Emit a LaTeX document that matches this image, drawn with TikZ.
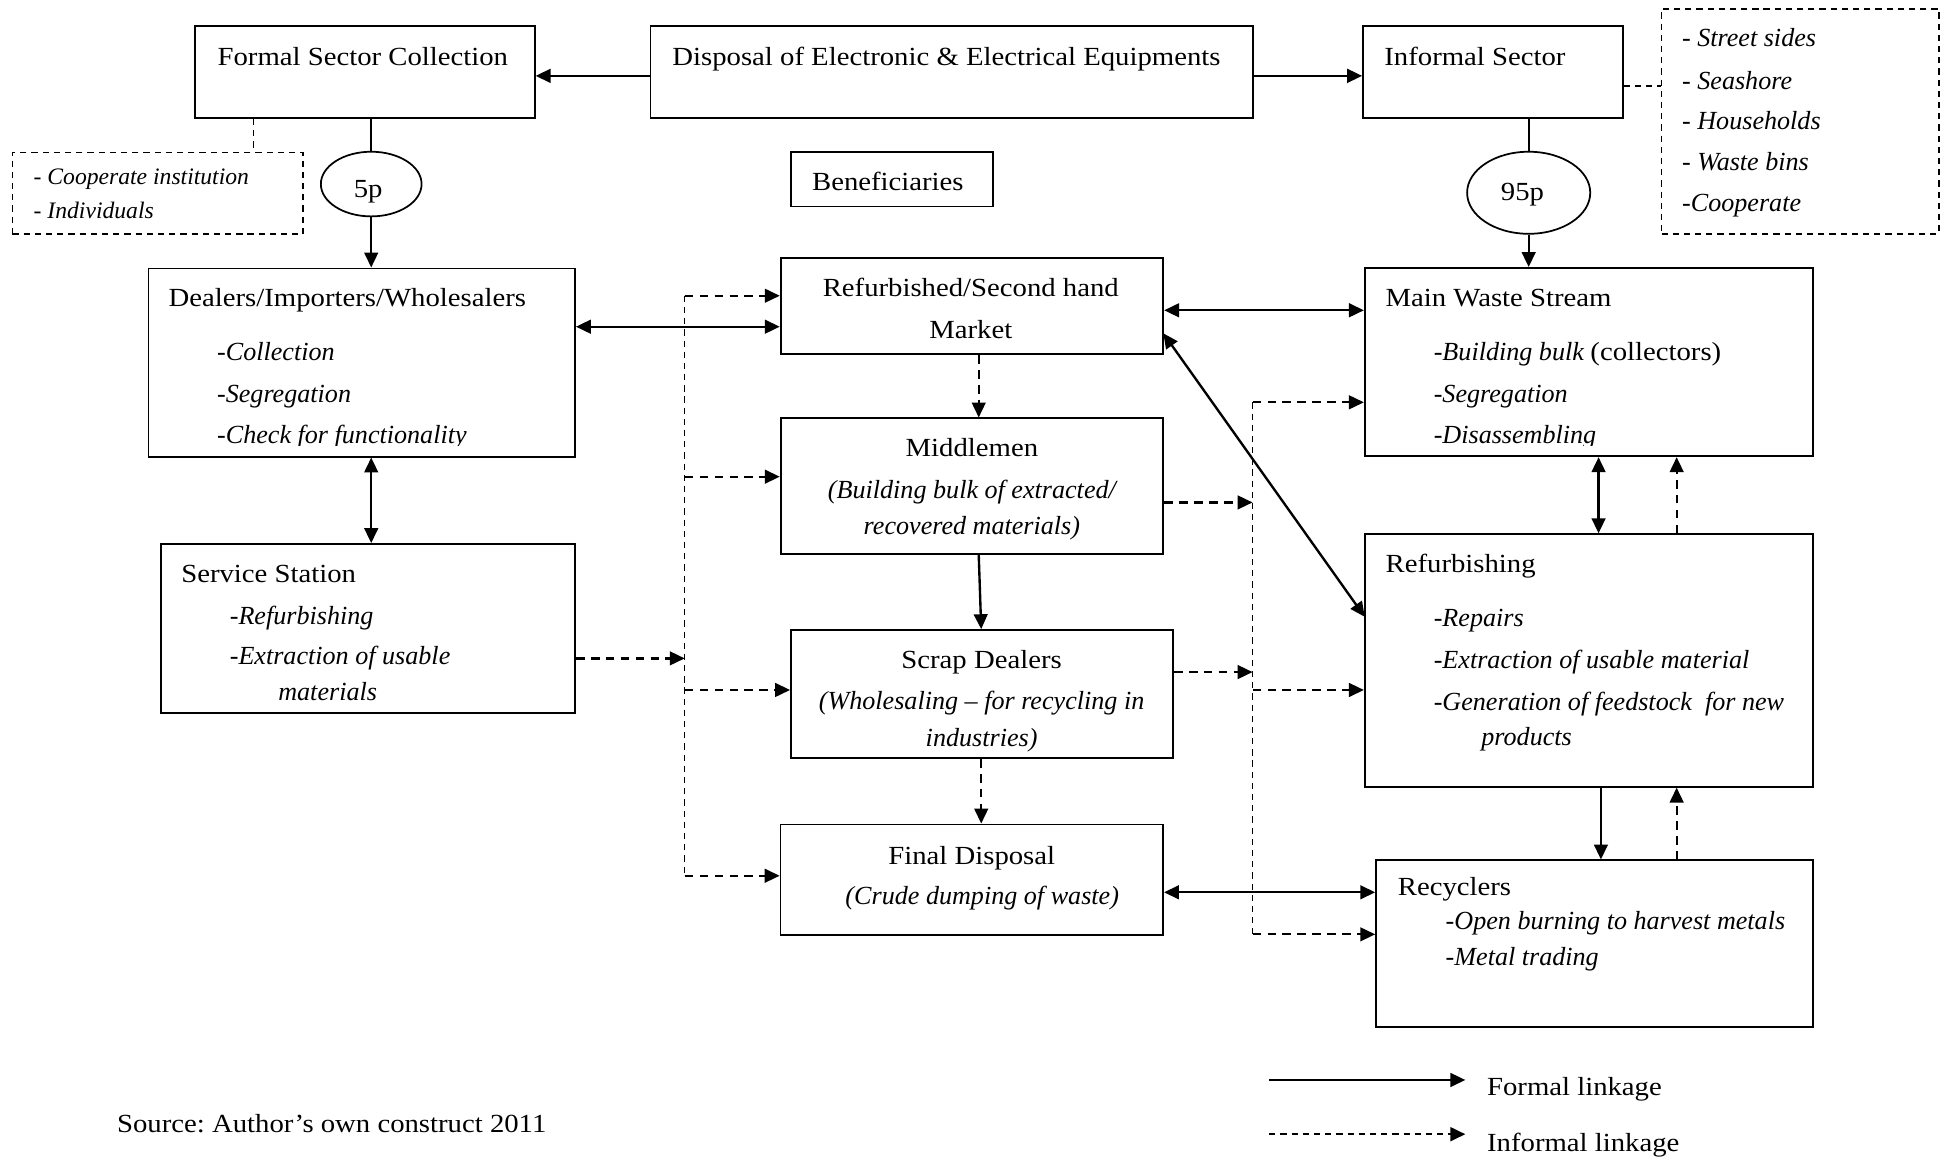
\documentclass[tikz,border=0pt]{standalone}
\usepackage{fontspec}
\setmainfont{Liberation Serif}[UprightFeatures={FakeStretch=1.1}]
\usetikzlibrary{arrows.meta,shapes.geometric}
\frenchspacing
\begin{document}
\begin{tikzpicture}[x=1pt,y=-1pt,
  >={Triangle[length=12pt,width=11pt]},
  box/.style={draw,line width=1.4pt,rectangle,inner sep=0pt},
  dbox/.style={draw,line width=1.3pt,dash pattern=on 5pt off 4pt,rectangle,inner sep=0pt},
  ell/.style={draw,ellipse,line width=1.4pt,inner sep=0pt},
  txt/.style={anchor=base west,inner sep=0pt,font=\fontsize{21}{25}\selectfont},
  itxt/.style={anchor=base west,inner sep=0pt,font=\fontsize{21}{25}\selectfont\itshape},
  sitxt/.style={anchor=base west,inner sep=0pt,font=\fontsize{19}{23}\selectfont\itshape},
  ctxt/.style={anchor=base,inner sep=0pt,font=\fontsize{21}{25}\selectfont},
  cittxt/.style={anchor=base,inner sep=0pt,font=\fontsize{21}{25}\selectfont\itshape},
  plain/.style={line width=1.4pt},
  sarr/.style={line width=1.9pt,->},
  sbi/.style={line width=1.9pt,<->},
  darr/.style={line width=1.8pt,dash pattern=on 7pt off 5pt,->},
  dline/.style={line width=1.2pt,dash pattern=on 5pt off 4pt},
  legd/.style={line width=2pt,dash pattern=on 5pt off 4pt,->}
]
\useasboundingbox (0,0) rectangle (1568,932);

% ---------- boxes ----------
\node[box,minimum width=273pt,minimum height=74pt] (formal) at (293.5,58) {};
\node[box,minimum width=484.5pt,minimum height=74pt] (disposal) at (765.25,58) {};
\node[box,minimum width=209pt,minimum height=74pt] (informal) at (1200.5,58) {};
\node[dbox,minimum width=223pt,minimum height=181pt] (rightdash) at (1447.5,97.5) {};
\node[dbox,minimum width=233.7pt,minimum height=65.9pt] (leftdash) at (126.85,155.45) {};
\node[box,minimum width=162.5pt,minimum height=44pt] (benef) at (717.25,144) {};
\node[ell,minimum width=81pt,minimum height=52pt] (ell5) at (298.5,148) {};
\node[ell,minimum width=99pt,minimum height=66pt] (ell95) at (1229.2,155) {};
\node[box,minimum width=343pt,minimum height=151.4pt] (dealers) at (290.9,291.5) {};
\node[box,minimum width=333.2pt,minimum height=135.7pt] (service) at (295.8,505.25) {};
\node[box,minimum width=307.7pt,minimum height=77.2pt] (refm) at (781.55,246.3) {};
\node[box,minimum width=307.7pt,minimum height=109.1pt] (middle) at (781.55,390.95) {};
\node[box,minimum width=307.2pt,minimum height=102.9pt] (scrap) at (789.6,558.05) {};
\node[box,minimum width=307.7pt,minimum height=88.7pt] (final) at (781.45,707.25) {};
\node[box,minimum width=360.6pt,minimum height=151.5pt] (mainw) at (1277.7,291.15) {};
\node[box,minimum width=360.6pt,minimum height=203.1pt] (refurb) at (1277.7,531.05) {};
\node[box,minimum width=351.3pt,minimum height=133.8pt] (recyc) at (1282.15,758.7) {};

% ---------- texts ----------
\node[txt] (t1) at (174.8,52.3) {Formal Sector Collection};
\node[txt] (t2) at (540.5,52.3) {Disposal of Electronic \& Electrical Equipments};
\node[txt] (t3) at (1113,52.3) {Informal Sector};
\node[txt] (t4) at (652.8,153.3) {Beneficiaries};
\node[itxt] (t5) at (1352.4,37.5) {- Street sides};
\node[itxt] (t6) at (1352.4,71.8) {- Seashore};
\node[itxt] (t7) at (1352.4,104) {- Households};
\node[itxt] (t8) at (1352.4,137.2) {- Waste bins};
\node[itxt] (t9) at (1352.4,170.2) {-Cooperate};
\node[sitxt] (t10) at (26.9,148.2) {- Cooperate institution};
\node[sitxt] (t11) at (26.9,175.6) {- Individuals};
\node[ctxt] (t12) at (296,159) {5p};
\node[ctxt] (t13) at (1224.2,161.5) {95p};

\node[txt] (t14) at (135.4,246.6) {Dealers/Importers/Wholesalers};
\node[itxt] (t15) at (174.4,289.5) {-Collection};
\node[itxt] (t16) at (174.4,323.8) {-Segregation};
\node[txt] (t18) at (145.6,468.5) {Service Station};
\node[itxt] (t19) at (184.6,501.8) {-Refurbishing};
\node[itxt] (t20) at (184.6,534.7) {-Extraction of usable};
\node[itxt] (t21) at (223.6,563.4) {materials};

\node[ctxt] (t22) at (780.6,238.6) {Refurbished/Second hand};
\node[ctxt] (t23) at (780.6,272) {Market};
\node[ctxt] (t24) at (781.5,367.2) {Middlemen};
\node[cittxt] (t25) at (781.5,400.7) {(Building bulk of extracted/};
\node[cittxt] (t26) at (781.5,429.4) {recovered materials)};
\node[ctxt] (t27) at (789.3,537.4) {Scrap Dealers};
\node[cittxt] (t28) at (789.3,570.9) {(Wholesaling -- for recycling in};
\node[cittxt] (t29) at (789.3,600) {industries)};
\node[ctxt] (t30) at (781.4,694.8) {Final Disposal};
\node[cittxt] (t31) at (789.8,727) {(Crude dumping of waste)};

\node[txt] (t32) at (1114,246.6) {Main Waste Stream};
\node[itxt] (t33) at (1152.7,289.5) {-Building bulk {\upshape (collectors)}};
\node[itxt] (t34) at (1152.7,323.8) {-Segregation};
\node[txt] (t36) at (1114,460.5) {Refurbishing};
\node[itxt] (t37) at (1152.7,503.5) {-Repairs};
\node[itxt] (t38) at (1152.7,537.5) {-Extraction of usable material};
\node[itxt] (t39) at (1152.7,571.5) {-Generation of feedstock\ \ for new};
\node[itxt] (t40) at (1191,599.5) {products};
\node[txt] (t41) at (1123.8,719.7) {Recyclers};
\node[itxt] (t42) at (1162.3,747.8) {-Open burning to harvest metals};
\node[itxt] (t43) at (1162.3,776) {-Metal trading};

\begin{scope}
\clip (0,0) rectangle (1568,358.3);
\node[itxt] (t17) at (174.4,356.5) {-Check for functionality};
\node[itxt] (t35) at (1152.7,356.5) {-Disassembling};
\end{scope}

\node[txt] (t44) at (1195.6,880.5) {Formal linkage};
\node[txt] (t45) at (1195.6,926) {Informal linkage};
\node[txt] (t46) at (94,910.8) {Source: Author’s own construct 2011};

% ---------- helper coordinates ----------
\coordinate (yA) at (0,61);
\coordinate (yB) at (0,69);
\coordinate (x204) at (204,0);
\coordinate (yDR) at (0,262.7);
\coordinate (yRM) at (0,249.5);
\coordinate (yFR) at (0,717.5);
\coordinate (xMR) at (1285.4,0);
\coordinate (xRR) at (1287.3,0);
\coordinate (xD) at (1348.2,0);
\coordinate (xC1) at (787,0);
\coordinate (xC2) at (789,0);
\coordinate (tL1) at (550.6,237.8);
\coordinate (tL2) at (550.6,383.3);
\coordinate (tL3) at (550.6,529.4);
\coordinate (tL4) at (550.6,554.8);
\coordinate (tL5) at (550.6,704.2);
\coordinate (tR1) at (1007.2,323.5);
\coordinate (tR2) at (1007.2,404);
\coordinate (tR3) at (1007.2,540.4);
\coordinate (tR4) at (1007.2,554.8);
\coordinate (tR5) at (1007.2,751.3);
\coordinate (dA) at (935.4,268);
\coordinate (dB) at (1097.4,496);
\coordinate (lg1) at (1020.6,868.4);
\coordinate (lg2) at (1178.3,868.4);
\coordinate (lg3) at (1020.6,912);
\coordinate (lg4) at (1178.3,912);

% ---------- connectors ----------
\draw[sarr] (disposal.west |- yA) -- (formal.east |- yA);
\draw[sarr] (disposal.east |- yA) -- (informal.west |- yA);
\draw[plain] (formal.south -| ell5.north) -- (ell5.north);
\draw[sarr] (ell5.south) -- (dealers.north -| ell5.south);
\draw[dline] (formal.south -| x204) -- (leftdash.north -| x204);
\draw[plain] (informal.south -| ell95.north) -- (ell95.north);
\draw[sarr] (ell95.south) -- (mainw.north -| ell95.south);
\draw[dline] (informal.east |- yB) -- (rightdash.west |- yB);

\draw[sbi] (dealers.east |- yDR) -- (refm.west |- yDR);
\draw[sbi] (dealers.south -| ell5.south) -- (service.north -| ell5.south);

\draw[dline] (tL1) -- (tL5);
\draw[darr] (tL1) -- (tL1 -| refm.west);
\draw[darr] (tL2) -- (tL2 -| middle.west);
\draw[darr] (service.east |- tL3) -- (tL3);
\draw[darr] (tL4) -- (tL4 -| scrap.west);
\draw[darr] (tL5) -- (tL5 -| final.west);

\draw[darr] (refm.south -| xC1) -- (middle.north -| xC1);
\draw[sarr] (middle.south -| xC1) -- (scrap.north -| xC2);
\draw[darr] (scrap.south -| xC2) -- (final.north -| xC2);

\draw[sbi] (refm.east |- yRM) -- (mainw.west |- yRM);
\draw[sbi] (dA) -- (dB);

\draw[darr] (middle.east |- tR2) -- (tR2);
\draw[darr] (scrap.east |- tR3) -- (tR3);
\draw[dline] (tR1) -- (tR5);
\draw[darr] (tR1) -- (tR1 -| mainw.west);
\draw[darr] (tR4) -- (tR4 -| refurb.west);
\draw[darr] (tR5) -- (tR5 -| recyc.west);

\draw[sbi] (mainw.south -| xMR) -- (refurb.north -| xMR);
\draw[darr] (refurb.north -| xD) -- (mainw.south -| xD);
\draw[sarr] (refurb.south -| xRR) -- (recyc.north -| xRR);
\draw[darr] (recyc.north -| xD) -- (refurb.south -| xD);
\draw[sbi] (final.east |- yFR) -- (recyc.west |- yFR);

\draw[sarr] (lg1) -- (lg2);
\draw[legd] (lg3) -- (lg4);
\end{tikzpicture}
\end{document}
